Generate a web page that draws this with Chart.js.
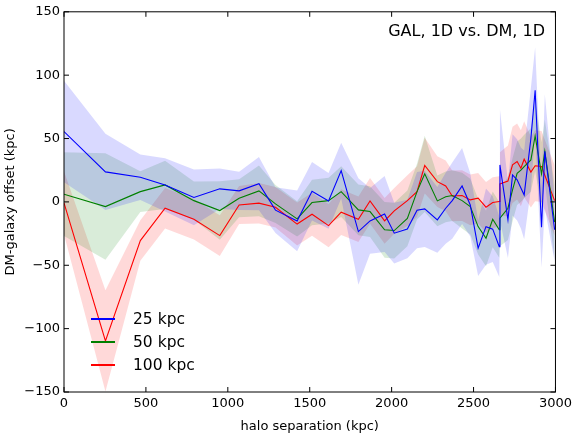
<!DOCTYPE html>
<html><head><meta charset="utf-8">
<script src="https://cdn.jsdelivr.net/npm/chart.js@4/dist/chart.umd.min.js"></script>
<style>html,body{margin:0;padding:0;background:#fff}#wrap{width:576px;height:437px;position:relative}</style>
</head><body><div id="wrap"><canvas id="c" width="576" height="437"></canvas></div>
<script>
// halo separation (kpc)
const separation = [0,253,466,617,793,951,1069,1190,1291,1423,1514,1615,1692,1797,1868,1957,2016,2096,2155,2202,2279,2330,2370,2430,2480,2528,2576,2617,2657,2661,2710,2738,2766,2789,2809,2850,2876,2915,2935,2995];
// DM-galaxy offset (kpc)
const offset25 = [55.5,23.7,19.5,13.4,3.5,10.3,8.7,14.4,-6.5,-15,8.4,0.8,24.7,-23.4,-15,-9.6,-24.7,-21.4,-6.5,-5.5,-14.2,-5,1,12.6,-2.4,-36.5,-19.5,-21.5,-35.3,29.2,-14.2,21.3,17.4,11,5.5,50,88,-20,40,-22];
const offset50 = [6.1,-3.7,8.1,13.4,1,-6.8,2.9,8.7,-1.6,-13.4,-0.5,1,8.1,-6.3,-7.6,-22,-22.6,-13,8.1,22.1,0.8,4,5,1,-3.7,-19.5,-28.7,-13.7,-22,-12.9,-5,9.5,22.6,25,27.9,33.1,52.1,22,40,-16];
const offset100 = [-0.8,-109.7,-30.5,-5,-13.7,-26.6,-2.4,-1,-4.2,-17.5,-9.7,-18.7,-8.1,-13.7,0.8,-15,-7.1,1,8.1,28.7,16,12.6,4.7,5,1.6,2.9,-4.2,-0.5,0.3,14.2,16.5,29.2,31.8,26.6,33.7,23.5,28.5,28,21,1];
// band half-widths
const err25 = [40,30,18,21,22,16,15,21,18,24,23,22,22,42,26,30,24,23,30,30,26,28,30,30,25,22,30,26,24,44,30,32,32,32,35,40,34,32,45,25];
const err50 = [33,42,16,19,15,23,15,20,15,14,18,18,20,20,20,22,22,22,22,30,20,20,20,22,22,22,22,22,22,22,25,25,25,25,25,25,28,25,25,30];
const err100 = [25,40,16,16,16,16,15,16,16,17,17,17,18,18,18,18,18,20,20,22,20,20,20,20,20,20,20,20,20,25,28,30,30,30,30,28,28,28,28,28];
const seriesLabels = ['25 kpc','50 kpc','100 kpc'];
const xTicks = [0,500,1000,1500,2000,2500,3000];
const yTicks = [-150,-100,-50,0,50,100,150];
const titleText = 'GAL, 1D vs. DM, 1D';

const lineColors = ['#0000ff','#008000','#ff0000'];
const bandColors = ['rgba(0,0,255,0.15)','rgba(0,128,0,0.15)','rgba(255,0,0,0.15)'];
const means = [offset25, offset50, offset100];
const errs = [err25, err50, err100];

const pts = (arr, f) => separation.map((x,i)=>({x, y: f(arr[i], i)}));
const datasets = [];
means.forEach((m,k)=>{
  datasets.push({label: seriesLabels[k], data: pts(m, v=>v), borderColor: lineColors[k], borderWidth: 1.1, pointRadius: 0, fill: false, tension: 0});
});
means.forEach((m,k)=>{
  datasets.push({label: 'hi'+k, data: pts(m, (v,i)=>v+errs[k][i]), borderWidth: 0, borderColor: 'rgba(0,0,0,0)', pointRadius: 0, backgroundColor: bandColors[k], fill: '+1', tension: 0});
  datasets.push({label: 'lo'+k, data: pts(m, (v,i)=>v-errs[k][i]), borderWidth: 0, borderColor: 'rgba(0,0,0,0)', pointRadius: 0, fill: false, tension: 0});
});

const fmt = v => v < 0 ? '\u2212' + Math.abs(v) : String(v);

const decor = {
  id: 'decor',
  afterDraw(chart){
    const {ctx, chartArea:{left,right,top,bottom}, scales:{x,y}} = chart;
    ctx.save();
    ctx.strokeStyle = '#000'; ctx.lineWidth = 1;
    ctx.strokeRect(left, top, right-left, bottom-top);
    ctx.beginPath();
    xTicks.forEach(v=>{ const p = x.getPixelForValue(v);
      ctx.moveTo(p,bottom); ctx.lineTo(p,bottom-5); ctx.moveTo(p,top); ctx.lineTo(p,top+5); });
    yTicks.forEach(v=>{ const p = y.getPixelForValue(v);
      ctx.moveTo(left,p); ctx.lineTo(left+5,p); ctx.moveTo(right,p); ctx.lineTo(right-5,p); });
    ctx.stroke();
    // title
    ctx.fillStyle = '#000';
    ctx.font = '16px "DejaVu Sans"';
    ctx.textAlign = 'right'; ctx.textBaseline = 'middle';
    ctx.fillText(titleText, 545, 32);
    // legend
    ctx.font = '15.5px "DejaVu Sans"';
    ctx.textAlign = 'left';
    seriesLabels.forEach((lab,k)=>{
      const yy = 319 + k*23;
      ctx.strokeStyle = lineColors[k]; ctx.lineWidth = 2;
      ctx.beginPath(); ctx.moveTo(91,yy); ctx.lineTo(115,yy); ctx.stroke();
      ctx.fillText(lab, 133, yy+1);
    });
    ctx.restore();
  }
};

Chart.defaults.font.family = '"DejaVu Sans"';
Chart.defaults.color = '#000';
new Chart(document.getElementById('c'), {
  type: 'line',
  data: { datasets },
  options: {
    responsive: false, animation: false, devicePixelRatio: 1,
    layout: { padding: { top: 11, right: 17, left: 0, bottom: 0 } },
    plugins: { legend: { display: false }, tooltip: { enabled: false } },
    scales: {
      x: { type: 'linear', min: 0, max: 3000,
        afterBuildTicks: s => { s.ticks = xTicks.map(v=>({value:v})); },
        ticks: { padding: 4, font: { size: 13 }, color: '#000', maxRotation: 0, callback: v => String(v) },
        grid: { display: false, drawTicks: false }, border: { display: false },
        title: { display: true, text: 'halo separation (kpc)', font: { size: 13 }, color: '#000', padding: { top: 2, bottom: 3 } },
        afterFit: s => { s.height = 45; } },
      y: { type: 'linear', min: -150, max: 150,
        afterBuildTicks: s => { s.ticks = yTicks.map(v=>({value:v})); },
        ticks: { padding: 4, font: { size: 13 }, color: '#000', callback: v => fmt(v) },
        grid: { display: false, drawTicks: false }, border: { display: false },
        title: { display: true, text: 'DM-galaxy offset (kpc)', font: { size: 13 }, color: '#000', padding: { top: 3, bottom: 4 } },
        afterFit: s => { s.width = 64; } }
    }
  },
  plugins: [decor]
});
</script></body></html>
